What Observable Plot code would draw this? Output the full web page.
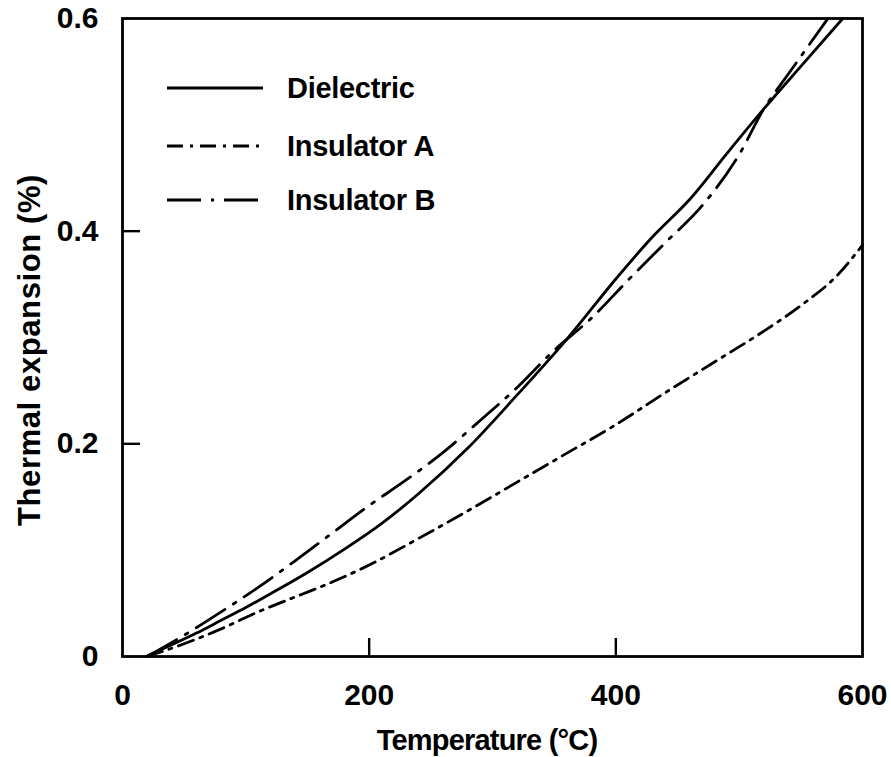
<!DOCTYPE html>
<html>
<head>
<meta charset="utf-8">
<script src="https://cdn.jsdelivr.net/npm/d3@7"></script>
<script src="https://cdn.jsdelivr.net/npm/@observablehq/plot@0.6"></script>
<style>
  html, body { margin: 0; padding: 0; background: #fff; }
  #chart { width: 891px; height: 757px; }
</style>
</head>
<body>
<div id="chart"></div>
<script>
// ---- data ----
const seriesNames = ["Dielectric", "Insulator A", "Insulator B"];

const dielectricT = [19, 40, 60, 80, 100, 120, 150, 180, 210, 240, 280, 320, 360, 400, 430, 460, 490, 520, 550, 584];
const dielectricE = [0, 0.011, 0.022, 0.034, 0.046, 0.059, 0.079, 0.101, 0.125, 0.153, 0.196, 0.246, 0.298, 0.355, 0.395, 0.430, 0.473, 0.515, 0.555, 0.600];

const insulatorAT = [20, 50, 80, 110, 140, 170, 200, 240, 280, 320, 360, 400, 440, 480, 520, 550, 580, 600];
const insulatorAE = [0, 0.012, 0.026, 0.042, 0.056, 0.070, 0.086, 0.111, 0.137, 0.164, 0.191, 0.218, 0.248, 0.277, 0.306, 0.330, 0.359, 0.387];

const insulatorBT = [20, 50, 80, 110, 140, 170, 200, 230, 260, 290, 320, 350, 380, 410, 440, 470, 500, 520, 540, 572];
const insulatorBE = [0, 0.020, 0.042, 0.065, 0.090, 0.116, 0.142, 0.166, 0.192, 0.222, 0.253, 0.288, 0.318, 0.354, 0.389, 0.424, 0.472, 0.515, 0.548, 0.600];

const xTicks = [0, 200, 400, 600];
const yTicks = [0, 0.2, 0.4, 0.6];
const xInnerTicks = [200, 400];
const yInnerTicks = [0.2, 0.4];
const xTitle = "Temperature (\u00B0C)";
const yTitle = "Thermal expansion (%)";

// ---- styles ----
const FONT = "'Liberation Sans', Arial, Helvetica, sans-serif";
const dashes = {
  "Dielectric": null,
  "Insulator A": "16,7,3,7",
  "Insulator B": "34,10,3,10"
};
const LW = 2.8;

const toRows = (name, T, E) => T.map((t, i) => ({series: name, t, e: E[i]}));
const rows = {
  "Dielectric": toRows("Dielectric", dielectricT, dielectricE),
  "Insulator A": toRows("Insulator A", insulatorAT, insulatorAE),
  "Insulator B": toRows("Insulator B", insulatorBT, insulatorBE)
};

const W = 891, H = 757;
const mL = 122, mR = 29, mT = 18, mB = 101;

const chart = Plot.plot({
  width: W, height: H,
  marginLeft: mL, marginRight: mR, marginTop: mT, marginBottom: mB,
  style: {fontFamily: FONT, fontWeight: "bold", background: "#fff", color: "#000", overflow: "visible"},
  x: {domain: [0, 600]},
  y: {domain: [0, 0.6]},
  marks: [
    // labels
    Plot.axisX(xTicks, {tickSize: 0, tickPadding: 27, fontSize: 30, fontWeight: "bold", label: null, tickFormat: d => String(d)}),
    Plot.axisY(yTicks, {tickSize: 0, tickPadding: 24, fontSize: 30, fontWeight: "bold", label: null, tickFormat: d => d === 0 ? "0" : d.toFixed(1)}),
    // inward ticks
    Plot.axisX(xInnerTicks, {tickSize: -18, strokeWidth: 2.4, tickFormat: () => "", label: null}),
    Plot.axisY(yInnerTicks, {tickSize: -18, strokeWidth: 2.4, tickFormat: () => "", label: null}),
    ...seriesNames.map(name => Plot.line(rows[name], {
      x: "t", y: "e", curve: "monotone-x",
      stroke: "#000", strokeWidth: LW,
      strokeDasharray: dashes[name] ?? undefined,
      strokeLinecap: "round"
    })),
    Plot.frame({stroke: "#000", strokeWidth: 2.8})
  ]
});

document.getElementById("chart").appendChild(chart);

// titles and in-plot legend
const svg = d3.select(chart);
svg.append("text")
  .attr("x", 487).attr("y", 750)
  .attr("text-anchor", "middle")
  .attr("font-family", FONT).attr("font-weight", "bold").attr("font-size", 29)
  .attr("letter-spacing", -0.8)
  .text(xTitle);
svg.append("text")
  .attr("transform", "translate(40,350) rotate(-90)")
  .attr("text-anchor", "middle")
  .attr("font-family", FONT).attr("font-weight", "bold").attr("font-size", 31)
  .attr("letter-spacing", 0.6)
  .text(yTitle);

const legendRowsY = [88, 146, 200];
const lg = svg.append("g");
seriesNames.forEach((name, i) => {
  const y = legendRowsY[i];
  lg.append("line")
    .attr("x1", 167).attr("x2", 263).attr("y1", y).attr("y2", y)
    .attr("stroke", "#000").attr("stroke-width", LW)
    .attr("stroke-dasharray", dashes[name]);
  lg.append("text")
    .attr("x", 287).attr("y", y).attr("dy", "0.36em")
    .attr("text-anchor", "start")
    .attr("font-family", FONT).attr("font-weight", "bold").attr("font-size", 29)
    .attr("letter-spacing", -0.3)
    .text(name);
});
</script>
</body>
</html>
